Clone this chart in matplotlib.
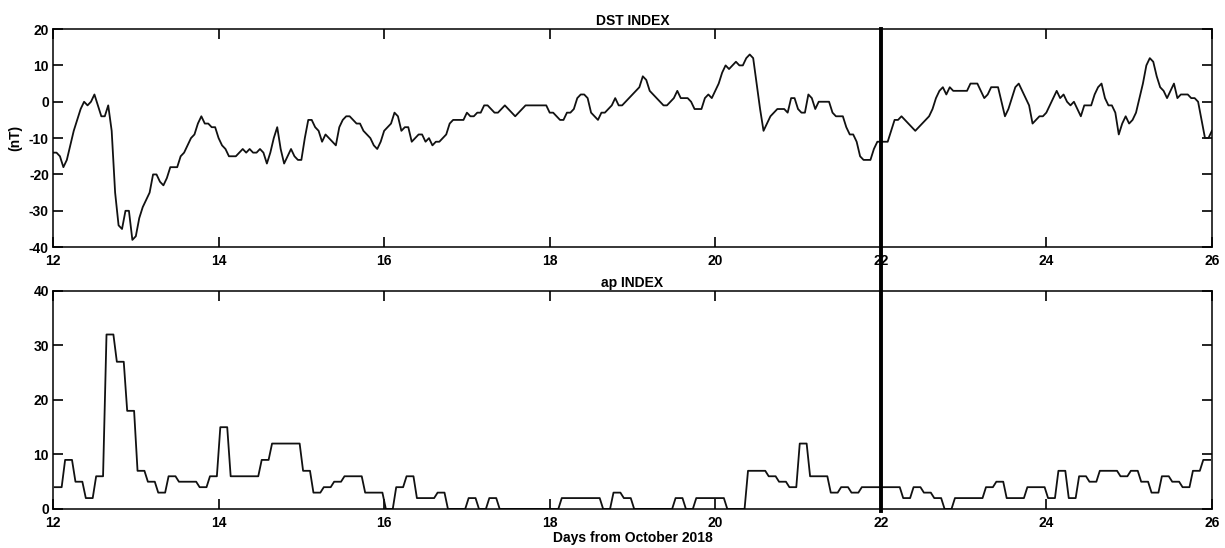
import matplotlib.pyplot as plt
import numpy as np
from matplotlib.lines import Line2D
from matplotlib.transforms import blended_transform_factory

plt.rcParams["font.family"] = ["Liberation Sans", "DejaVu Sans"]
plt.rcParams["font.weight"] = "bold"
plt.rcParams["axes.titleweight"] = "bold"
plt.rcParams["axes.labelweight"] = "bold"
plt.rcParams["axes.unicode_minus"] = False

START_DAY = 12
END_DAY = 26
EVENT_DAY = 22

# hourly Dst (nT), 12 Oct 00h .. 26 Oct 00h
DST = [
    -14, -14, -15, -18, -16, -12, -8, -5, -2, 0, -1, 0,
    2, -1, -4, -4, -1, -8, -25, -34, -35, -30, -30, -38,
    -37, -32, -29, -27, -25, -20, -20, -22, -23, -21, -18, -18,
    -18, -15, -14, -12, -10, -9, -6, -4, -6, -6, -7, -7,
    -10, -12, -13, -15, -15, -15, -14, -13, -14, -13, -14, -14,
    -13, -14, -17, -14, -10, -7, -13, -17, -15, -13, -15, -16,
    -16, -10, -5, -5, -7, -8, -11, -9, -10, -11, -12, -7,
    -5, -4, -4, -5, -6, -6, -8, -9, -10, -12, -13, -11,
    -8, -7, -6, -3, -4, -8, -7, -7, -11, -10, -9, -9,
    -11, -10, -12, -11, -11, -10, -9, -6, -5, -5, -5, -5,
    -3, -4, -4, -3, -3, -1, -1, -2, -3, -3, -2, -1,
    -2, -3, -4, -3, -2, -1, -1, -1, -1, -1, -1, -1,
    -3, -3, -4, -5, -5, -3, -3, -2, 1, 2, 2, 1,
    -3, -4, -5, -3, -3, -2, -1, 1, -1, -1, 0, 1,
    2, 3, 4, 7, 6, 3, 2, 1, 0, -1, -1, 0,
    1, 3, 1, 1, 1, 0, -2, -2, -2, 1, 2, 1,
    3, 5, 8, 10, 9, 10, 11, 10, 10, 12, 13, 12,
    5, -2, -8, -6, -4, -3, -2, -2, -2, -3, 1, 1,
    -2, -3, -3, 2, 1, -2, 0, 0, 0, 0, -3, -4,
    -4, -4, -7, -9, -9, -11, -15, -16, -16, -16, -13, -11,
    -11, -11, -11, -8, -5, -5, -4, -5, -6, -7, -8, -7,
    -6, -5, -4, -2, 1, 3, 4, 2, 4, 3, 3, 3,
    3, 3, 5, 5, 5, 3, 1, 2, 4, 4, 4, 0,
    -4, -2, 1, 4, 5, 3, 1, -1, -6, -5, -4, -4,
    -3, -1, 1, 3, 1, 2, 0, -1, 0, -2, -4, -1,
    -1, -1, 2, 4, 5, 1, -1, -1, -3, -9, -6, -4,
    -6, -5, -3, 1, 5, 10, 12, 11, 7, 4, 3, 1,
    3, 5, 1, 2, 2, 2, 1, 1, 0, -5, -10, -10,
    -8,
]

# 3-hourly ap index, 8 values per day
AP = [
    4, 9, 5, 2, 6, 32, 27, 18,
    7, 5, 3, 6, 5, 5, 4, 6,
    15, 6, 6, 6, 9, 12, 12, 12,
    7, 3, 4, 5, 6, 6, 3, 3,
    0, 4, 6, 2, 2, 3, 0, 0,
    2, 0, 2, 0, 0, 0, 0, 0,
    0, 2, 2, 2, 2, 0, 3, 2,
    0, 0, 0, 0, 2, 0, 2, 2,
    2, 0, 0, 7, 7, 6, 5, 4,
    12, 6, 6, 3, 4, 3, 4, 4,
    4, 4, 2, 4, 3, 2, 0, 2,
    2, 2, 4, 5, 2, 2, 4, 4,
    2, 7, 2, 6, 5, 7, 7, 6,
    7, 5, 3, 6, 5, 4, 7, 9,
]

X_TICKS = [12, 14, 16, 18, 20, 22, 24, 26]
DST_TICKS = [-40, -30, -20, -10, 0, 10, 20]
AP_TICKS = [0, 10, 20, 30, 40]


def style_axes(ax, yticks):
    ax.set_xlim(START_DAY, END_DAY)
    ax.set_ylim(yticks[0], yticks[-1])
    ax.set_xticks(X_TICKS)
    ax.set_yticks(yticks)
    ax.tick_params(direction="in", length=7, width=1.2, top=True, right=True,
                   labelsize=10)
    ax.tick_params(axis="x", pad=5)
    ax.tick_params(axis="y", pad=3)
    for side in ax.spines.values():
        side.set_linewidth(1.1)


def main():
    fig = plt.figure(figsize=(12.25, 5.48), dpi=100)
    ax_dst = fig.add_axes([0.0433, 0.549, 0.946, 0.398])
    ax_ap = fig.add_axes([0.0433, 0.0712, 0.946, 0.398])

    t_dst = START_DAY + np.arange(len(DST)) / 24
    ax_dst.plot(t_dst, DST, color="#111111", linewidth=1.3)
    style_axes(ax_dst, DST_TICKS)
    ax_dst.set_title("DST INDEX", fontsize=10, pad=3)
    ax_dst.set_ylabel("(nT)", fontsize=10, labelpad=5)

    # ap held constant over each 3-hour interval, drawn on an hourly grid
    ap_hourly = np.repeat(AP, 3)
    t_ap = START_DAY + (np.arange(len(ap_hourly)) + 0.5) / 24
    ax_ap.plot(t_ap, ap_hourly, color="#111111", linewidth=1.3)
    style_axes(ax_ap, AP_TICKS)
    ax_ap.set_title("ap INDEX", fontsize=10, pad=3)
    ax_ap.set_xlabel("Days from October 2018", fontsize=10, labelpad=1)

    # event marker crossing both panels
    trans = blended_transform_factory(ax_dst.transData, fig.transFigure)
    y_top = ax_dst.get_position().y1
    y_bot = ax_ap.get_position().y0 - 0.003
    fig.add_artist(Line2D([EVENT_DAY, EVENT_DAY], [y_bot, y_top],
                          transform=trans, color="black", linewidth=2.8))

    fig.savefig("out.png", dpi=100)
    plt.close(fig)


if __name__ == "__main__":
    main()
